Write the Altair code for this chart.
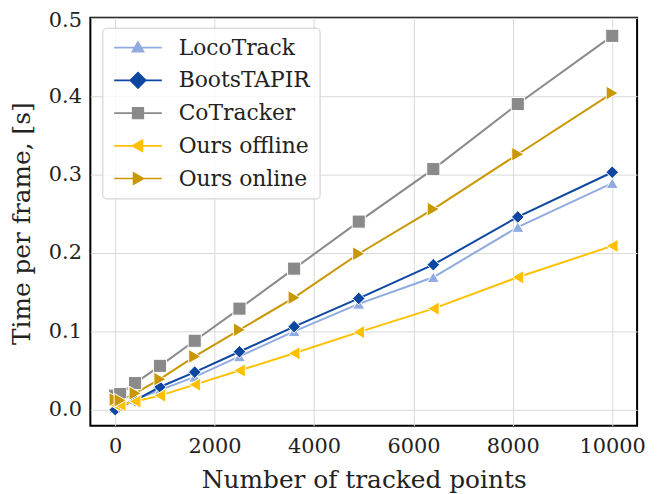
import altair as alt
import pandas as pd

# ---------------- data ----------------
points = [0, 100, 400, 900, 1600, 2500, 3600, 4900, 6400, 8100, 10000]
series_names = ["LocoTrack", "BootsTAPIR", "CoTracker", "Ours offline", "Ours online"]

locotrack = [0.002, 0.005, 0.013, 0.025, 0.042, 0.068, 0.100, 0.135, 0.169, 0.233, 0.289]
bootstapir = [0.000, 0.004, 0.012, 0.029, 0.048, 0.074, 0.106, 0.142, 0.185, 0.246, 0.303]
cotracker = [0.018, 0.020, 0.034, 0.056, 0.088, 0.129, 0.180, 0.240, 0.307, 0.390, 0.477]
ours_offline = [0.006, 0.006, 0.0105, 0.018, 0.032, 0.050, 0.072, 0.099, 0.129, 0.169, 0.209]
ours_online = [0.013, 0.012, 0.021, 0.039, 0.068, 0.102, 0.143, 0.199, 0.256, 0.326, 0.404]

x_ticks = [0, 2000, 4000, 6000, 8000, 10000]
y_ticks = [0.0, 0.1, 0.2, 0.3, 0.4, 0.5]

# ---------------- table ----------------
rows = []
for name, vals in zip(series_names, [locotrack, bootstapir, cotracker, ours_offline, ours_online]):
    for x, v in zip(points, vals):
        rows.append({"series": name, "points": x, "time": v})
df = pd.DataFrame(rows)

# ---------------- styles ----------------
FONT = "DejaVu Serif"
TEXT = "#222222"
colors = ["#8FABE0", "#0D47A1", "#8A8A8A", "#FFC000", "#C99700"]
shapes = ["triangle-up", "diamond", "square", "triangle-left", "triangle-right"]
sizes = [150, 200, 130, 170, 170]
# legend symbols: a short line with the marker in the middle
legend_shapes = [
    "M-4,0L4,0M0,-0.95L0.95,0.7L-0.95,0.7Z",
    "M-4,0L4,0M0,-1.3L1.3,0L0,1.3L-1.3,0Z",
    "M-4,0L4,0M-0.9,-0.9L0.9,-0.9L0.9,0.9L-0.9,0.9Z",
    "M-4,0L4,0M-0.95,0L0.75,-0.95L0.75,0.95Z",
    "M-4,0L4,0M0.95,0L-0.75,-0.95L-0.75,0.95Z",
]


def by_series(values, fallback):
    expr = f"'{fallback}'"
    for name, val in reversed(list(zip(series_names, values))):
        expr = f"datum.value === '{name}' ? '{val}' : ({expr})"
    return expr


legend = alt.Legend(
    title=None,
    orient="none",
    legendX=12,
    legendY=10,
    padding=9,
    rowPadding=11,
    labelFont=FONT,
    labelFontSize=22,
    labelColor=TEXT,
    labelOffset=30,
    symbolOffset=16,
    symbolSize=144,
    symbolStrokeWidth=1.6,
    symbolOpacity=1,
    symbolType={"expr": by_series(legend_shapes, "circle")},
    symbolStrokeColor={"expr": by_series(colors, "black")},
    cornerRadius=4,
    strokeColor="#cccccc",
    fillColor="rgba(255,255,255,0.8)",
)

x = alt.X(
    "points:Q",
    scale=alt.Scale(domain=[-500, 10500], nice=False, zero=False),
    axis=alt.Axis(
        values=x_ticks,
        format="d",
        title="Number of tracked points",
        labelFlush=False,
        labelPadding=10,
        titleY=62,
        titleBaseline="alphabetic",
    ),
)
y = alt.Y(
    "time:Q",
    scale=alt.Scale(domain=[-0.0203, 0.5], nice=False, zero=False),
    axis=alt.Axis(
        values=y_ticks,
        format=".1f",
        title="Time per frame, [s]",
        labelFlush=False,
        labelPadding=9,
        labelOffset={"expr": "datum.value >= 0.45 ? 2.5 : 0"},
        titleX=-61,
        titleY=207,
        titleAngle=270,
        titleAlign="center",
        titleBaseline="alphabetic",
    ),
)

cscale = alt.Scale(domain=series_names, range=colors)

lines = alt.Chart(df).mark_line(strokeWidth=2).encode(
    x=x, y=y, color=alt.Color("series:N", scale=cscale, legend=None)
)
marks = alt.Chart(df).mark_point(
    filled=True, opacity=1, stroke="white", strokeWidth=1
).encode(
    x=x,
    y=y,
    color=alt.Color("series:N", scale=cscale, legend=None),
    shape=alt.Shape("series:N", scale=alt.Scale(domain=series_names, range=shapes), legend=None),
    size=alt.Size("series:N", scale=alt.Scale(domain=series_names, range=sizes), legend=None),
)
legend_layer = (
    alt.Chart(df)
    .transform_filter("false")
    .mark_point(filled=True, opacity=1, size=144)
    .encode(color=alt.Color("series:N", scale=cscale, legend=legend))
)

chart = (
    alt.layer(lines, marks, legend_layer)
    .resolve_scale(color="independent", shape="independent")
    .properties(
        width=551,
        height=411,
        autosize="none",
        padding={"left": 83, "top": 8, "right": 12, "bottom": 70},
        background="white",
    )
    .configure_view(stroke="black", strokeWidth=2)
    .configure_axis(
        grid=True,
        gridColor="#d9d9d9",
        gridWidth=1,
        ticks=False,
        tickSize=0,
        domain=False,
        labelFont=FONT,
        labelFontSize=21,
        labelColor=TEXT,
        titleFont=FONT,
        titleFontSize=25,
        titleFontWeight="normal",
        titleColor=TEXT,
    )
)

chart.save("out.html", embed_options={"renderer": "svg", "actions": False})
